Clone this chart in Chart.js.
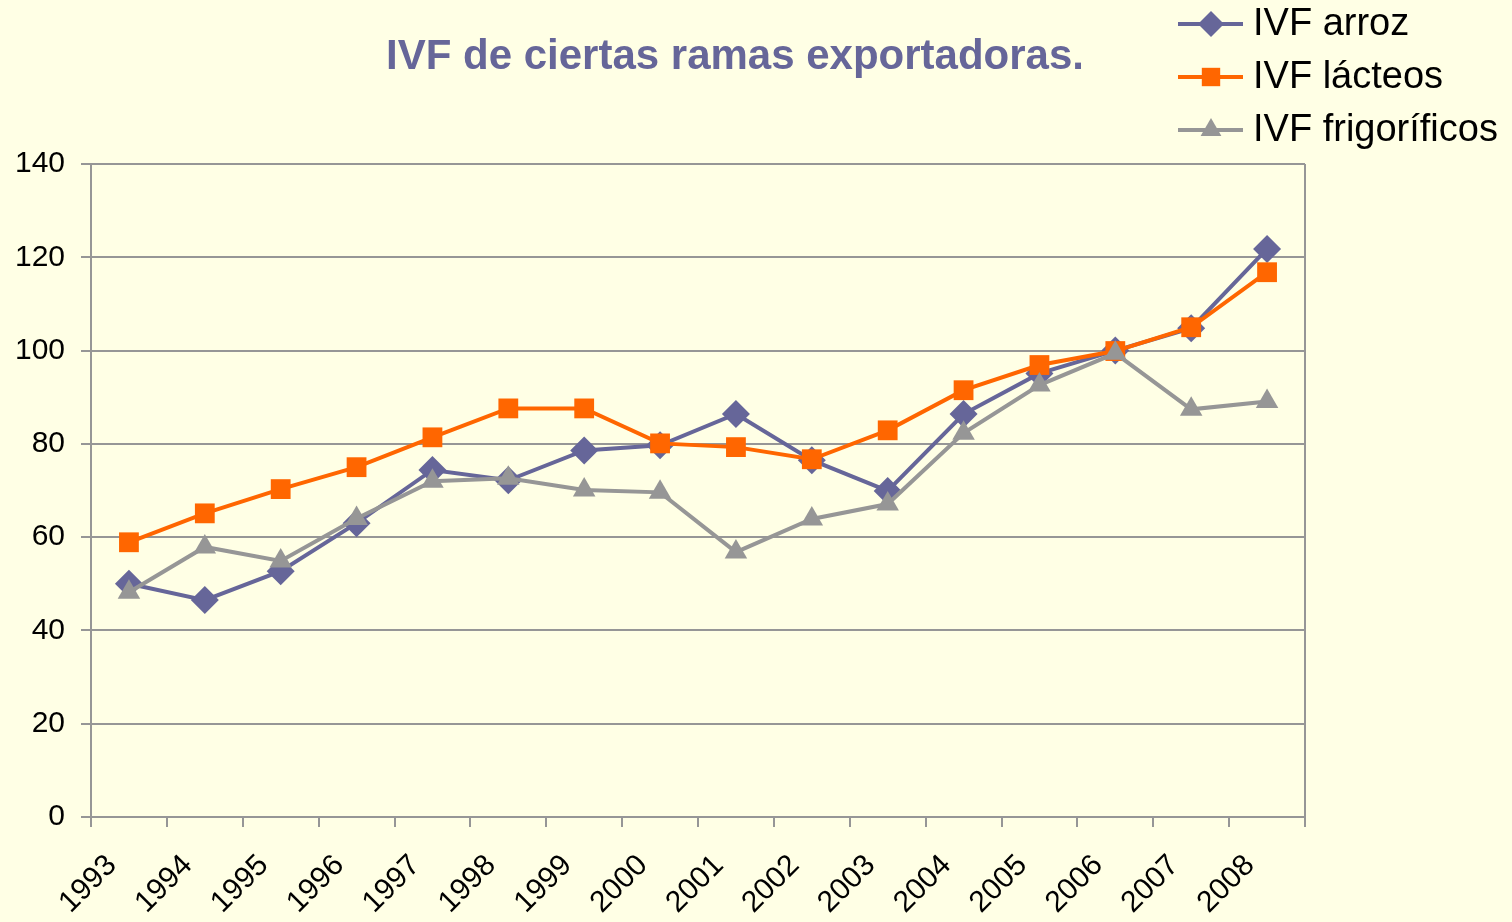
<!DOCTYPE html>
<html>
<head>
<meta charset="utf-8">
<title>IVF de ciertas ramas exportadoras</title>
<script src="https://cdn.jsdelivr.net/npm/chart.js@4/dist/chart.umd.min.js"></script>
<style>
    html, body { margin: 0; padding: 0; background: #FFFFE5; }
    #wrap { position: relative; width: 1512px; height: 922px; }
</style>
</head>
<body>
<div id="wrap"><canvas id="ivfChart"></canvas></div>
<script>
// Years on the x axis
const years = ['1993', '1994', '1995', '1996', '1997', '1998', '1999', '2000',
               '2001', '2002', '2003', '2004', '2005', '2006', '2007', '2008'];

// Series values
const ivfArroz = [50, 46.5, 52.7, 63, 74.4, 72.2, 78.6, 79.7, 86.4, 76.5, 69.9, 86.4, 95.1, 100, 104.8, 121.8];
const ivfLacteos = [58.9, 65.1, 70.3, 75, 81.4, 87.6, 87.6, 80.1, 79.3, 76.7, 82.9, 91.5, 96.9, 99.9, 105, 116.8];
const ivfFrigorificos = [48.2, 57.9, 54.9, 64, 72, 72.6, 70.1, 69.6, 56.8, 63.9, 67.1, 82.3, 92.6, 99.4, 87.4, 89.1];

// Y axis ticks
const yTicks = [0, 20, 40, 60, 80, 100, 120, 140];

const GRID = '#969696';
const FONT = 'Arial, "Liberation Sans", sans-serif';

// Title, legend (line + marker) and the right border of the plot area
const decorPlugin = {
    id: 'decor',
    afterDraw(chart) {
        const ctx = chart.ctx;
        const area = chart.chartArea;
        ctx.save();

        // plot border on the right
        ctx.strokeStyle = GRID;
        ctx.lineWidth = 2;
        ctx.beginPath();
        ctx.moveTo(area.right, area.top);
        ctx.lineTo(area.right, area.bottom);
        ctx.stroke();

        // title
        ctx.fillStyle = '#666699';
        ctx.font = 'bold 42px ' + FONT;
        ctx.textAlign = 'center';
        ctx.textBaseline = 'middle';
        ctx.fillText('IVF de ciertas ramas exportadoras.', 735, 57);

        // legend
        ctx.font = '38px ' + FONT;
        ctx.textAlign = 'left';
        chart.data.datasets.forEach((ds, i) => {
            const y = 24 + i * 53;
            ctx.strokeStyle = ds.borderColor;
            ctx.lineWidth = ds.borderWidth;
            ctx.beginPath();
            ctx.moveTo(1178, y);
            ctx.lineTo(1243, y);
            ctx.stroke();
            ctx.fillStyle = ds.pointBackgroundColor;
            ctx.strokeStyle = ds.pointBorderColor;
            Chart.helpers.drawPoint(ctx, {
                pointStyle: ds.pointStyle,
                radius: ds.pointRadius - 1,
                rotation: 0,
                borderWidth: 0
            }, 1211, y);
            ctx.fillStyle = '#000';
            ctx.fillText(ds.label, 1253, y + 1);
        });
        ctx.restore();
    }
};

const ctx = document.getElementById('ivfChart').getContext('2d');
new Chart(ctx, {
    type: 'line',
    data: {
        labels: years,
        datasets: [{
            label: 'IVF arroz',
            data: ivfArroz,
            borderColor: '#666699',
            borderWidth: 4,
            pointStyle: 'rectRot',
            pointRadius: 14,
            pointBackgroundColor: '#666699',
            pointBorderColor: '#666699',
            pointBorderWidth: 0,
            order: 3
        }, {
            label: 'IVF lácteos',
            data: ivfLacteos,
            borderColor: '#FF6600',
            borderWidth: 4,
            pointStyle: 'rect',
            pointRadius: 14,
            pointBackgroundColor: '#FF6600',
            pointBorderColor: '#FF6600',
            pointBorderWidth: 0,
            order: 2
        }, {
            label: 'IVF frigoríficos',
            data: ivfFrigorificos,
            borderColor: '#969696',
            borderWidth: 4,
            pointStyle: 'triangle',
            pointRadius: 13,
            pointBackgroundColor: '#969696',
            pointBorderColor: '#969696',
            pointBorderWidth: 0,
            order: 1
        }]
    },
    options: {
        responsive: true,
        maintainAspectRatio: false,
        animation: false,
        layout: {
            padding: { top: 164, left: 15, right: 207, bottom: 0 }
        },
        plugins: {
            legend: { display: false },
            title: { display: false },
            tooltip: { enabled: false }
        },
        scales: {
            x: {
                offset: true,
                // fixed axis height so the plot bottom lands where the reference has it
                afterFit: (axis) => {
                    axis.paddingLeft = 0;
                    axis.paddingRight = 0;
                    axis.height = 105;
                },
                grid: {
                    offset: true,
                    drawOnChartArea: false,
                    color: GRID,
                    lineWidth: 2,
                    tickLength: 10
                },
                border: { color: GRID, width: 2 },
                ticks: {
                    autoSkip: false,
                    minRotation: 45,
                    maxRotation: 45,
                    padding: 21,
                    labelOffset: -17,
                    color: '#000',
                    font: { family: FONT, size: 30 }
                }
            },
            y: {
                min: 0,
                max: 140,
                afterBuildTicks: (axis) => {
                    axis.ticks = yTicks.map(v => ({ value: v }));
                },
                afterFit: (axis) => {
                    axis.width = 76;
                },
                grid: {
                    color: GRID,
                    lineWidth: 2,
                    tickLength: 10
                },
                border: { color: GRID, width: 2 },
                ticks: {
                    padding: 16,
                    color: '#000',
                    font: { family: FONT, size: 30 }
                }
            }
        }
    },
    plugins: [decorPlugin]
});
</script>
</body>
</html>
